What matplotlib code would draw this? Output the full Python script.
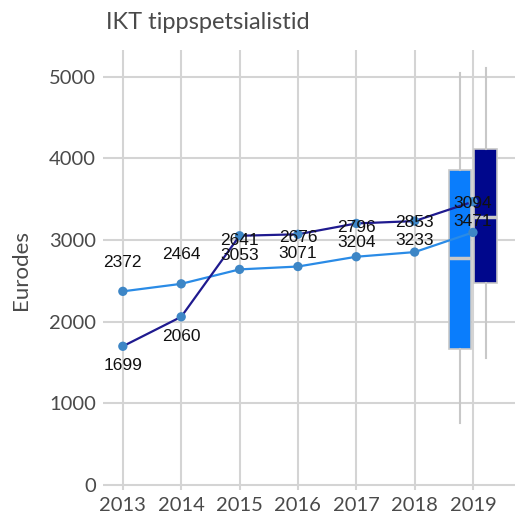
import matplotlib.pyplot as plt

# data
years = [2013, 2014, 2015, 2016, 2017, 2018, 2019]
median_pay = [2372, 2464, 2641, 2676, 2796, 2853, 3094]
mean_pay = [1699, 2060, 3053, 3071, 3204, 3233, 3471]

# 2019 distribution boxes: whislo, q1, med, q3, whishi
box_light = [760, 1667, 2782, 3860, 5049]
box_dark = [1556, 2475, 3284, 4118, 5110]

yticks = [0, 1000, 2000, 3000, 4000, 5000]

light_col = '#2a8be6'
dark_col = '#1f1a8f'
dot_col = '#3d86c6'
grid_col = '#d4d4d4'
text_col = '#4a4a4a'

fig = plt.figure(figsize=(5.15, 5.2), dpi=100)
ax = fig.add_axes([0.2, 0.058, 0.8, 0.846])

ax.set_xlim(2012.66, 2019.72)
ax.set_ylim(-60, 5330)

ax.set_xticks(years)
ax.set_yticks(yticks)
ax.grid(True, color=grid_col, linewidth=1.5)
ax.set_axisbelow(True)
for s in ax.spines.values():
    s.set_visible(False)
ax.tick_params(length=0, labelsize=14.5, colors=text_col, pad=5)
for lab in ax.get_xticklabels() + ax.get_yticklabels():
    lab.set_family('Lato')

# boxes for 2019
def stats(v):
    return {'whislo': v[0], 'q1': v[1], 'med': v[2], 'q3': v[3], 'whishi': v[4], 'fliers': []}

ax.bxp([stats(box_light)], positions=[2018.78], widths=0.38, patch_artist=True,
       showcaps=False, manage_ticks=False,
       boxprops=dict(facecolor='#0a7dfc', edgecolor='#c8c8c8', linewidth=1.2),
       medianprops=dict(color='#c8c8c8', linewidth=2.5),
       whiskerprops=dict(color='#c8c8c8', linewidth=1.5))
ax.bxp([stats(box_dark)], positions=[2019.22], widths=0.39, patch_artist=True,
       showcaps=False, manage_ticks=False,
       boxprops=dict(facecolor='#00078c', edgecolor='#c8c8c8', linewidth=1.2),
       medianprops=dict(color='#c8c8c8', linewidth=2.5),
       whiskerprops=dict(color='#c8c8c8', linewidth=1.5))

ax.plot(years, median_pay, color=light_col, linewidth=1.6, zorder=3)
ax.plot(years, mean_pay, color=dark_col, linewidth=1.6, zorder=3)
ax.scatter(years, median_pay, color=dot_col, s=45, zorder=4, edgecolors='none')
ax.scatter(years, mean_pay, color=dot_col, s=45, zorder=4, edgecolors='none')

for x, y in zip(years, median_pay):
    ax.annotate(str(y), (x, y), xytext=(0, 21), textcoords='offset points',
                ha='center', va='center', fontsize=12.5, family='Liberation Sans',
                color='#111111', zorder=5)
for x, y in zip(years, mean_pay):
    ax.annotate(str(y), (x, y), xytext=(0, -14), textcoords='offset points',
                ha='center', va='center', fontsize=12.5, family='Liberation Sans',
                color='#111111', zorder=5)

ax.set_ylabel('Eurodes', fontsize=16, color=text_col, family='Lato', labelpad=13)
fig.text(0.205, 0.957, 'IKT tippspetsialistid', fontsize=17, color=text_col,
         family='Lato', ha='left', va='center')

fig.savefig('out.png', dpi=100)
